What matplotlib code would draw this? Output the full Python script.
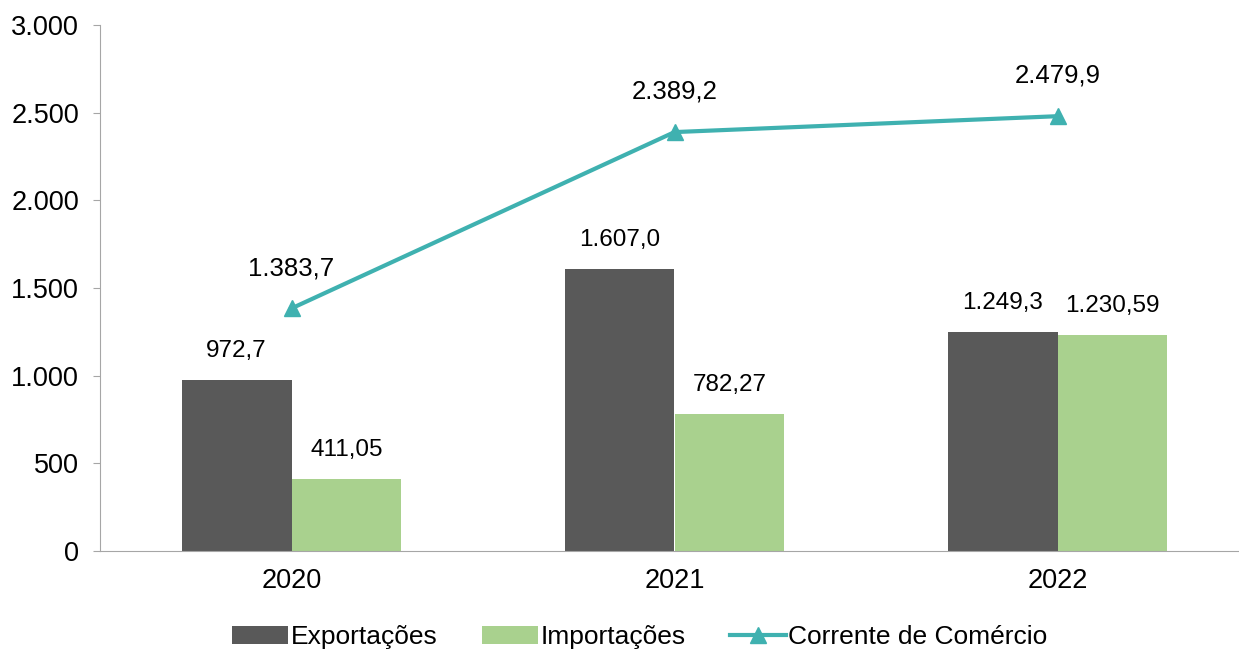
import matplotlib.pyplot as plt
import numpy as np

plt.rcParams['font.family'] = ['Liberation Sans', 'DejaVu Sans']

anos = ['2020', '2021', '2022']
exportacoes = [972.7, 1607.0, 1249.3]
importacoes = [411.05, 782.27, 1230.59]
corrente = [1383.7, 2389.2, 2479.9]
lab_exp = ['972,7', '1.607,0', '1.249,3']
lab_imp = ['411,05', '782,27', '1.230,59']
lab_cor = ['1.383,7', '2.389,2', '2.479,9']
yticks = [0, 500, 1000, 1500, 2000, 2500, 3000]
ytick_labels = ['0', '500', '1.000', '1.500', '2.000', '2.500', '3.000']

c_exp = '#595959'
c_imp = '#a9d18e'
c_cor = '#3fb1b0'

fig = plt.figure(figsize=(12.39, 6.51), dpi=100)
ax = fig.add_axes([100 / 1239, 100 / 651, 1149 / 1239, 526 / 651])

x = np.arange(len(anos))
w = 0.287
b1 = ax.bar(x - w / 2, exportacoes, w, color=c_exp, label='Exportações')
b2 = ax.bar(x + w / 2, importacoes, w, color=c_imp, label='Importações')
l1, = ax.plot(x, corrente, color=c_cor, lw=3, marker='^', markersize=12,
              label='Corrente de Comércio')

for i in range(len(anos)):
    ax.annotate(lab_exp[i], (x[i] - w / 2, exportacoes[i]), xytext=(0, 21),
                textcoords='offset points', ha='center', va='center', fontsize=17.5)
    ax.annotate(lab_imp[i], (x[i] + w / 2, importacoes[i]), xytext=(0, 21),
                textcoords='offset points', ha='center', va='center', fontsize=17.5)
    ax.annotate(lab_cor[i], (x[i], corrente[i]), xytext=(0, 29),
                textcoords='offset points', ha='center', va='center', fontsize=18.5)

ax.set_xlim(-0.5, 2.5)
ax.set_ylim(0, 3000)
ax.set_xticks(x)
ax.set_xticklabels(anos, fontsize=19.5)
ax.set_yticks(yticks)
ax.set_yticklabels(ytick_labels, fontsize=19.5)
ax.tick_params(axis='x', length=0, pad=12)
ax.tick_params(axis='y', length=5, color='#a6a6a6', pad=10)
for s in ['top', 'right']:
    ax.spines[s].set_visible(False)
ax.spines['left'].set_color('#a6a6a6')
ax.spines['bottom'].set_color('#a6a6a6')

fig.legend([b1, b2, l1], ['Exportações', 'Importações', 'Corrente de Comércio'],
           loc='center', bbox_to_anchor=(640 / 1239, 14 / 651), ncol=3, frameon=False,
           fontsize=19, handlelength=2.1, handletextpad=0.1, columnspacing=1.7)

fig.savefig('out.png', dpi=100)
